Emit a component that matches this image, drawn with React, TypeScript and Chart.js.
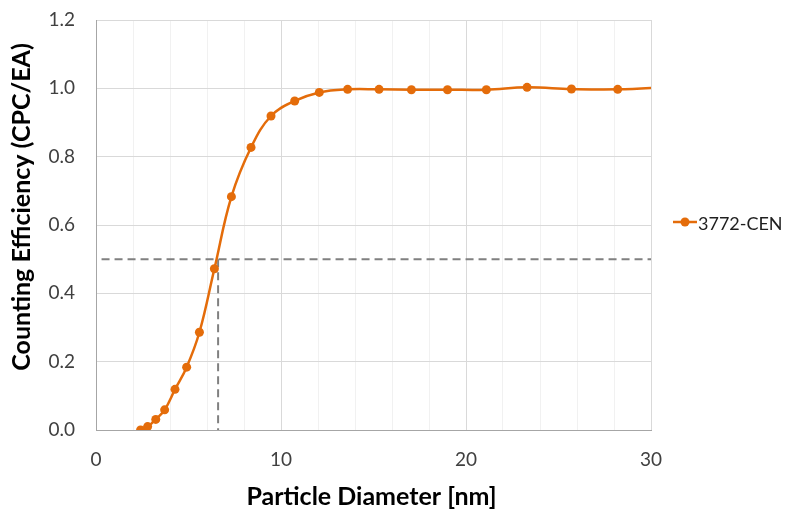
import React, { useEffect, useRef } from 'react';
import { Chart, registerables } from 'chart.js';

Chart.register(...registerables);

// ---- data ----
const diameters = [2.41, 2.79, 3.23, 3.71, 4.27, 4.9, 5.59, 6.4, 7.32, 8.38, 9.46, 10.74, 12.07, 13.6, 15.3, 17.05, 19.0, 21.1, 23.3, 25.7, 28.2, 31.0];
const efficiency = [0.0, 0.01, 0.031, 0.059, 0.119, 0.184, 0.286, 0.472, 0.683, 0.827, 0.919, 0.963, 0.988, 0.997, 0.997, 0.996, 0.996, 0.996, 1.003, 0.998, 0.997, 1.004];
const cutoffLevelX = [0.3, 30];
const cutoffLevelY = [0.5, 0.5];
const cutoffDropX = [6.6, 6.6];
const cutoffDropY = [0.5, 0];
const seriesName = '3772-CEN';
const xTitle = 'Particle Diameter [nm]';
const yTitle = 'Counting Efficiency (CPC/EA)';
const xRange = [0, 30];
const yRange = [0, 1.2];
const xStep = 2;
const xLabelEvery = 10;
const yStep = 0.2;

const ORANGE = '#E46C0A';
const FONT = 'Lato, "Open Sans", sans-serif';
const TICK_COLOR = '#404040';

const overlayPlugin = {
  id: 'overlay',
  afterDraw(chart: any) {
    const ctx = chart.ctx;
    const area = chart.chartArea;
    ctx.save();
    // axis titles
    ctx.fillStyle = '#000';
    ctx.font = `bold 25px ${FONT}`;
    ctx.textAlign = 'center';
    ctx.textBaseline = 'middle';
    ctx.fillText(xTitle, (area.left + area.right) / 2 - 2, 497);
    ctx.translate(22, 207);
    ctx.rotate(-Math.PI / 2);
    ctx.fillText(yTitle, 0, 0);
    ctx.restore();

    // legend
    ctx.save();
    const ly = 222;
    ctx.strokeStyle = ORANGE;
    ctx.lineWidth = 2.5;
    ctx.beginPath();
    ctx.moveTo(673, ly);
    ctx.lineTo(697, ly);
    ctx.stroke();
    ctx.fillStyle = ORANGE;
    ctx.beginPath();
    ctx.arc(685, ly, 4.5, 0, Math.PI * 2);
    ctx.fill();
    ctx.fillStyle = '#1f1f1f';
    ctx.font = `18px ${FONT}`;
    ctx.textAlign = 'left';
    ctx.textBaseline = 'middle';
    ctx.fillText(seriesName, 698, ly + 2);
    ctx.restore();
  },
};

export default function App() {
  const ref = useRef<HTMLCanvasElement | null>(null);
  useEffect(() => {
    document.body.style.margin = '0';
    if (!ref.current) return;
    const chart = new Chart(ref.current, {
      type: 'line',
      data: {
        datasets: [
          {
            label: seriesName,
            data: diameters.map((x, i) => ({ x, y: efficiency[i] })),
            borderColor: ORANGE,
            backgroundColor: ORANGE,
            borderWidth: 2.5,
            pointRadius: 4.5,
            pointBorderWidth: 0,
            pointBackgroundColor: ORANGE,
            tension: 0.4,
            fill: false,
          },
          {
            label: 'level',
            data: cutoffLevelX.map((x, i) => ({ x, y: cutoffLevelY[i] })),
            borderColor: '#808080',
            borderWidth: 2,
            borderDash: [8, 5],
            pointRadius: 0,
            fill: false,
          },
          {
            label: 'drop',
            data: cutoffDropX.map((x, i) => ({ x, y: cutoffDropY[i] })),
            borderColor: '#808080',
            borderWidth: 2,
            borderDash: [8, 5],
            pointRadius: 0,
            fill: false,
          },
        ],
      },
      options: {
        responsive: false,
        animation: false,
        layout: { padding: { top: 20, right: 134, left: 0, bottom: 0 } },
        plugins: { legend: { display: false }, tooltip: { enabled: false } },
        scales: {
          x: {
            type: 'linear',
            min: xRange[0],
            max: xRange[1],
            afterFit: (s: any) => { s.height = 82; },
            ticks: {
              stepSize: xStep,
              autoSkip: false,
              maxRotation: 0,
              color: TICK_COLOR,
              font: { family: FONT, size: 19 },
              padding: 18,
              callback: (v: any) => (Number(v) % xLabelEvery === 0 ? String(v) : ''),
            },
            grid: {
              color: (c: any) => (c.tick && c.tick.value % xLabelEvery === 0 ? '#d9d9d9' : '#f1f1f1'),
              drawTicks: false,
              lineWidth: 1,
            },
            border: { color: '#a6a6a6', width: 1 },
          },
          y: {
            type: 'linear',
            min: yRange[0],
            max: yRange[1],
            afterFit: (s: any) => { s.width = 96; s.paddingTop = 0; s.paddingBottom = 0; },
            ticks: {
              stepSize: yStep,
              color: TICK_COLOR,
              font: { family: FONT, size: 19 },
              padding: 21,
              callback: (v: any) => Number(v).toFixed(1),
            },
            grid: { color: '#d9d9d9', drawTicks: false, lineWidth: 1 },
            border: { color: '#a6a6a6', width: 1 },
          },
        },
      },
      plugins: [overlayPlugin],
    });
    return () => chart.destroy();
  }, []);
  return (
    <div style={{ width: 785, height: 512, background: '#fff' }}>
      <canvas ref={ref} width={785} height={512} />
    </div>
  );
}
